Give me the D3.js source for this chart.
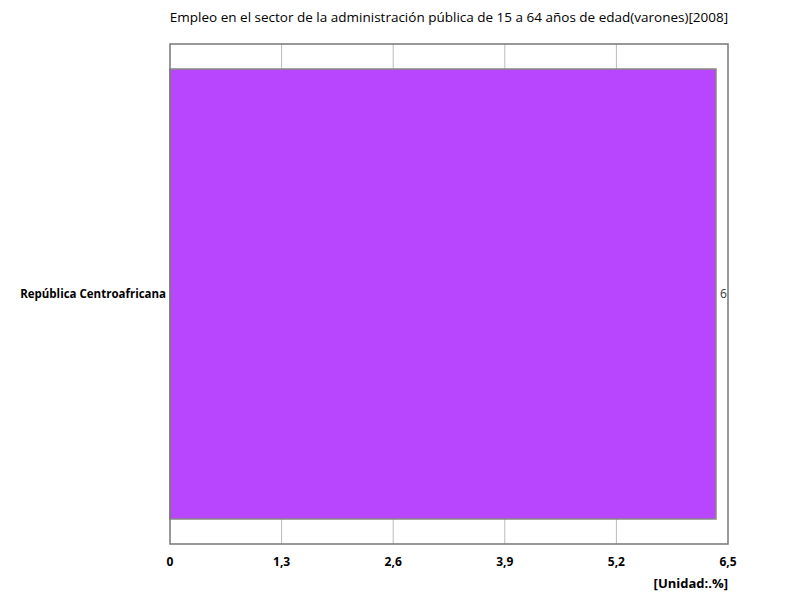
<!DOCTYPE html>
<html>
<head>
<meta charset="utf-8">
<script src="https://cdn.jsdelivr.net/npm/d3@7"></script>
<style>
  body { margin: 0; background: #fff; }
  text { font-family: "Open Sans", "DejaVu Sans", sans-serif; }
</style>
</head>
<body>
<div id="chart"></div>
<script>
// Chart data
var titleText = "Empleo en el sector de la administración pública de 15 a 64 años de edad(varones)[2008]";
var countries = ["República Centroafricana"];
var values = [6.36];
var labels = ["6"];
var xTicks = [0, 1.3, 2.6, 3.9, 5.2, 6.5];
var unitText = "[Unidad:.%]";

var w = 800;
var h = 600;
var plotLeft = 170, plotRight = 728, plotTop = 44, plotBottom = 544;

var svg = d3.select("#chart")
  .append("svg")
  .attr("width", w)
  .attr("height", h);

var xScale = d3.scaleLinear()
  .domain([0, 6.5])
  .range([plotLeft, plotRight]);

var yScale = d3.scaleBand()
  .domain(countries)
  .range([plotTop, plotBottom])
  .paddingInner(0.1)
  .paddingOuter(0.05);

// gridlines
svg.selectAll("line.grid")
  .data(xTicks.slice(1, -1))
  .enter()
  .append("line")
  .attr("class", "grid")
  .attr("x1", function(d) { return xScale(d); })
  .attr("x2", function(d) { return xScale(d); })
  .attr("y1", plotTop)
  .attr("y2", plotBottom)
  .attr("stroke", "#bbb")
  .attr("stroke-width", 1);

// bars
svg.selectAll("rect.bar")
  .data(values)
  .enter()
  .append("rect")
  .attr("class", "bar")
  .attr("x", xScale(0))
  .attr("y", function(d, i) { return yScale(countries[i]); })
  .attr("width", function(d) { return xScale(d) - xScale(0); })
  .attr("height", yScale.bandwidth())
  .attr("fill", "#b846ff")
  .attr("stroke", "#888")
  .attr("stroke-width", 1.5);

// frame
svg.append("rect")
  .attr("x", plotLeft)
  .attr("y", plotTop)
  .attr("width", plotRight - plotLeft)
  .attr("height", plotBottom - plotTop)
  .attr("fill", "none")
  .attr("stroke", "#777")
  .attr("stroke-width", 1.5);

// value labels
svg.selectAll("text.val")
  .data(values)
  .enter()
  .append("text")
  .attr("class", "val")
  .attr("x", function(d) { return xScale(d) + 4; })
  .attr("y", function(d, i) { return yScale(countries[i]) + yScale.bandwidth() / 2; })
  .attr("dy", "0.35em")
  .attr("font-size", 12)
  .attr("fill", "#333")
  .text(function(d, i) { return labels[i]; });

// category labels
svg.selectAll("text.cat")
  .data(countries)
  .enter()
  .append("text")
  .attr("class", "cat")
  .attr("x", plotLeft - 4)
  .attr("y", function(d) { return yScale(d) + yScale.bandwidth() / 2; })
  .attr("dy", "0.35em")
  .attr("text-anchor", "end")
  .attr("font-size", 11.5)
  .attr("font-weight", "bold")
  .text(function(d) { return d; });

// x tick labels
svg.selectAll("text.tick")
  .data(xTicks)
  .enter()
  .append("text")
  .attr("class", "tick")
  .attr("x", function(d) { return xScale(d); })
  .attr("y", 566)
  .attr("text-anchor", "middle")
  .attr("font-size", 12)
  .attr("font-weight", "bold")
  .text(function(d) { return d3.format(".1~f")(d).replace(".", ","); });

// unit
svg.append("text")
  .attr("x", plotRight)
  .attr("y", 588)
  .attr("text-anchor", "end")
  .attr("font-size", 13)
  .attr("font-weight", "bold")
  .text(unitText);

// title
svg.append("text")
  .attr("x", (plotLeft + plotRight) / 2)
  .attr("y", 22)
  .attr("text-anchor", "middle")
  .attr("font-size", 13.5)
  .text(titleText);
</script>
</body>
</html>
